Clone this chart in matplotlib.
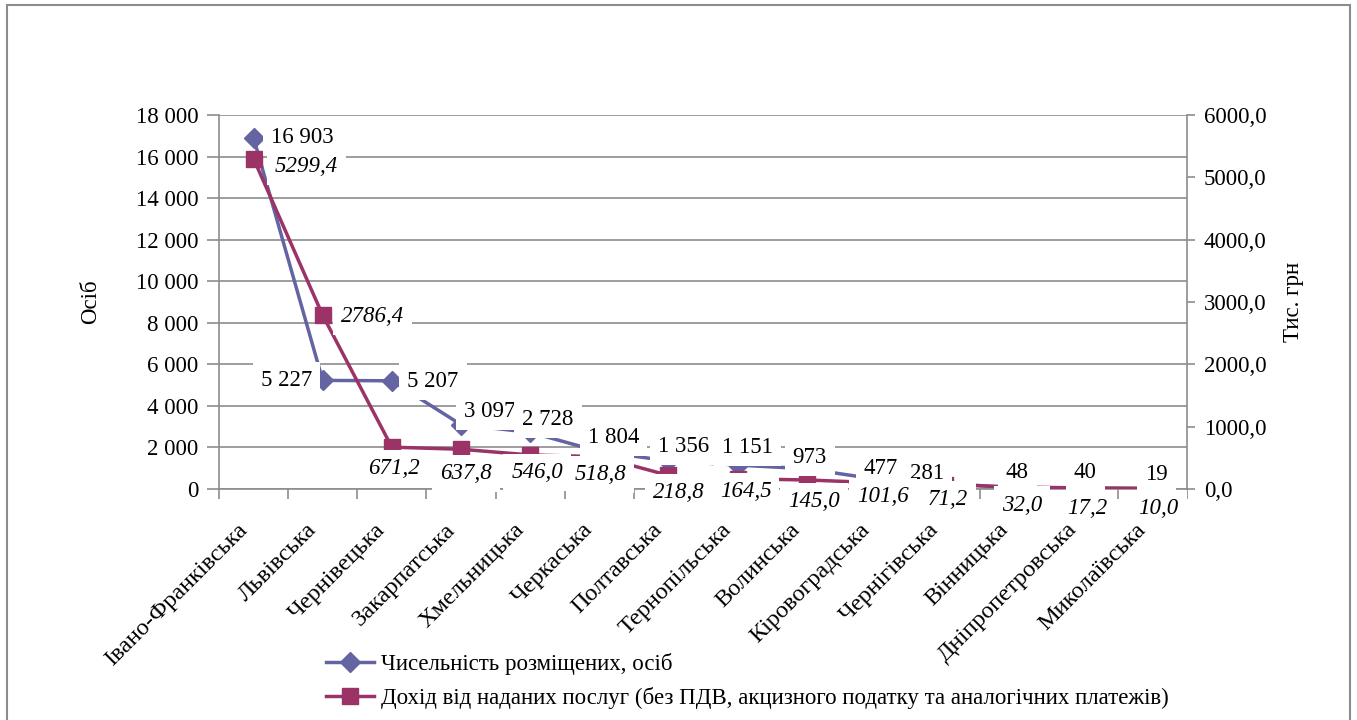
import matplotlib
matplotlib.use("Agg")
import matplotlib.pyplot as plt
from matplotlib.patches import Rectangle
from matplotlib.lines import Line2D

plt.rcParams['font.family'] = ['Liberation Serif', 'DejaVu Serif']

regions = ["Івано-Франківська", "Львівська", "Чернівецька", "Закарпатська",
           "Хмельницька", "Черкаська", "Полтавська", "Тернопільська",
           "Волинська", "Кіровоградська", "Чернігівська", "Вінницька",
           "Дніпропетровська", "Миколаївська"]
persons = [16903, 5227, 5207, 3097, 2728, 1804, 1356, 1151, 973, 477, 281, 48, 40, 19]
income = [5299.4, 2786.4, 671.2, 637.8, 546.0, 518.8, 218.8, 164.5, 145.0, 101.6,
          71.2, 32.0, 17.2, 10.0]
left_ticks = [0, 2000, 4000, 6000, 8000, 10000, 12000, 14000, 16000, 18000]
right_ticks = [0, 1000, 2000, 3000, 4000, 5000, 6000]

name1 = "Чисельність розміщених, осіб"
name2 = "Дохід від наданих послуг (без ПДВ, акцизного податку та аналогічних платежів)"

# label offsets in pixels (dx, dy up)
off1 = [(49, 0), (-36, 0), (41, -1), (29, 13), (18, 13), (14, 14), (15, 14),
        (10, 18), (3, 11), (5, 11), (-18, 10), (3, 16), (2, 16), (4, 14)]
off2 = [(53, -8), (50, -1), (2, -21), (5, -24), (7, -18), (1, -18), (10, -17),
        (8, -13), (7, -22), (7, -14), (3, -15), (8, -18), (4, -21), (6, -20)]

c1 = "#6464A2"
c2 = "#9B3366"
grid_c = "#8C8C8C"
FS = 16.5
FS_CAT = 17.5

W, H = 1357, 720
fig = plt.figure(figsize=(W / 100, H / 100), dpi=100)
ax = fig.add_axes([219 / W, 1 - 489 / H, (1187 - 219) / W, (489 - 115) / H])
ax2 = ax.twinx()

x = list(range(len(regions)))

def fmt_int(v):
    return f"{v:,}".replace(",", " ")

def fmt_dec(v):
    return f"{v:.1f}".replace(".", ",")

ax.set_xlim(-0.5, len(regions) - 0.5)
ax.set_ylim(0, 18000)
ax2.set_ylim(0, 6000)

ax.set_yticks(left_ticks)
ax.set_yticklabels([fmt_int(v) for v in left_ticks], fontsize=FS)
ax2.set_yticks(right_ticks)
ax2.set_yticklabels([fmt_dec(v) for v in right_ticks], fontsize=FS)

ax.yaxis.grid(True, color=grid_c, linewidth=1.2)
ax.set_axisbelow(True)

# category ticks at boundaries
ax.set_xticks([i - 0.5 for i in range(len(regions) + 1)])
ax.set_xticklabels([])
ax.tick_params(axis='x', direction='out', length=7, color=grid_c, width=1.2)
ax.tick_params(axis='y', direction='out', length=9, color=grid_c, width=1.2, pad=6)
ax2.tick_params(axis='y', direction='out', length=6, color=grid_c, width=1.2, pad=6)

for a in (ax, ax2):
    a.spines['top'].set_visible(False)
    for s in ['left', 'right', 'bottom']:
        a.spines[s].set_color(grid_c)
        a.spines[s].set_linewidth(1.2)
ax2.spines['left'].set_visible(False)
ax2.spines['bottom'].set_visible(False)
ax.spines['right'].set_visible(False)

ax.set_ylabel("Осіб", fontsize=FS, labelpad=25)
ax2.set_ylabel("Тис. грн", fontsize=FS, labelpad=12)

ax2.set_zorder(ax.get_zorder() + 1)
ax2.patch.set_visible(False)

ax.plot(x, persons, color=c1, lw=2.5, marker='D', ms=10, mec=c1, mfc=c1, zorder=3)
ax2.plot(x, income, color=c2, lw=2.5, marker='s', ms=11, mec=c2, mfc=c2, zorder=3)

bb = dict(boxstyle='square,pad=0.35', fc='white', ec='none')
for i, v in enumerate(persons):
    dx, dy = off1[i]
    ax2.annotate(fmt_int(v), xy=(i, v / 3.0), xytext=(dx * 0.72, dy * 0.72),
                 textcoords='offset points', ha='center', va='center',
                 fontsize=FS, bbox=bb, zorder=5)
for i, v in enumerate(income):
    dx, dy = off2[i]
    ax2.annotate(fmt_dec(v), xy=(i, v), xytext=(dx * 0.72, dy * 0.72),
                 textcoords='offset points', ha='center', va='center',
                 fontsize=FS, style='italic', bbox=bb, zorder=5)

# category labels (on top of label boxes)
for i, r in enumerate(regions):
    ax2.annotate(r, xy=(i, 0), xycoords=('data', 'axes fraction'),
                 xytext=(-2 * 0.72, -30 * 0.72), textcoords='offset points',
                 rotation=45, ha='right', va='top', fontsize=FS_CAT, zorder=10)

h1 = Line2D([], [], color=c1, lw=2.5, marker='D', ms=10)
h2 = Line2D([], [], color=c2, lw=2.5, marker='s', ms=11)
fig.legend([h1, h2], [name1, name2], loc='upper left',
           bbox_to_anchor=(305 / W, 1 - 632 / H), frameon=False, fontsize=FS,
           handlelength=2.1, handletextpad=0.3, labelspacing=0.55)

fig.patches.append(Rectangle((7 / W, -0.05), (1350 - 7) / W, 1 - 5 / H + 0.05,
                             transform=fig.transFigure, fill=False,
                             ec="#8C8C8C", lw=1.5))

fig.savefig("out.png", dpi=100)
